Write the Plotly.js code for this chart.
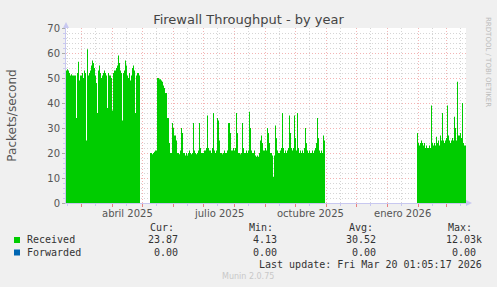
<!DOCTYPE html>
<html>
<head>
<meta charset="utf-8">
<script src="https://cdn.plot.ly/plotly-3.0.1.min.js"></script>
<style>
  html, body { margin: 0; padding: 0; background: #F0F0F0; }
  #chart { width: 497px; height: 287px; }
</style>
</head>
<body>
<div id="chart"></div>
<script>
// ---- data (daily values, packets/second) ----
const seg1Start = '2025-02-13 01:05';
const seg1Values = [53,53.5,53,52,51,51.5,51,51,51,51,34,52,56.5,49,51,51,52,50,53,52,
  25,61.5,51,52,53,55,57,56,54,51,48,36,53,55,52,50,51,52,53,52,
  51,38,52,51,51,50,37,52,53,53,54,55,59,56,53,52,33,52,53,57,
  55,51,50,52,49,51,54,55,53,36,51,52,52,51,52];

const seg2Start = '2025-05-08 01:05';
const seg2Values = [20,20,19.5,20,20.5,21,21,50,50,49.5,49.5,49,48.5,47,46,44,44,34,34,24,
  20,20,32,30,27,27,25,20,20,19.5,21,30,28,20,20,19,20,19,20,21,
  20,19.5,20,32,21,20,19.5,20,21,32,22,20,20,20,21,21,22,35,22,21,
  21,20,22,36,21,20,21,34,33,25,20,20,19.5,20,21,20,20,21,32,32,
  28,21,21,22,21,22,36,28,20,20,19.5,20,32,22,20,20,21,20,21,36.5,
  30,21,20,20,21,19,18.5,19,18.5,20,25,27,24,21,21,22,21,30,28,24,
  20,20,19,10.5,19,31,26,21,20,20,21,22,36,22,20,21,20,21,22,35,
  28,22,21,22,35,26,21,36,22,20,21,20,21,20,22,30,24,21,20,21,
  20,20,21,20,21,22,24,34,26,21,20,21,20,27,25,25];

const seg3Start = '2026-01-30 01:05';
const seg3Values = [28,24,23,24,25,24,23,24,22,23,22,22,23,22,39,24,23,24,23,26.5,
  24,25,23,27,25,36,25,24,25,26,39,27,25,24,25,26,25,34.5,30,25,
  48.5,27,27,28,26,40,24,23,23,24];

const seriesName = 'Received';
const xRange = ['2025-02-13 01:05', '2026-03-20 01:05'];
const monthTicks = ['2025-03-01','2025-04-01','2025-05-01','2025-06-01','2025-07-01','2025-08-01',
  '2025-09-01','2025-10-01','2025-11-01','2025-12-01','2026-01-01','2026-02-01','2026-03-01'];
const midMonthTicks = ['2025-02-15','2025-03-15','2025-04-15','2025-05-15','2025-06-15','2025-07-15',
  '2025-08-15','2025-09-15','2025-10-15','2025-11-15','2025-12-15','2026-01-15','2026-02-15','2026-03-15'];
const labelDates = ['2025-04-16','2025-07-16','2025-10-16','2026-01-16'];
const labelTexts = ['abril 2025','julio 2025','octubre 2025','enero 2026'];

const legendHeaders = ['Cur:','Min:','Avg:','Max:'];
const receivedStats = ['23.87','4.13','30.52','12.03k'];
const forwardedStats = ['0.00','0.00','0.00','0.00'];
const lastUpdate = 'Last update: Fri Mar 20 01:05:17 2026';

// ---- helpers ----
const DAY = 86400000;
function parseD(s){ const [d,t]=s.split(' '); const [Y,M,D]=d.split('-').map(Number); const [h,m]=(t||'0:0').split(':').map(Number); return Date.UTC(Y,M-1,D,h,m); }
function fmt(ms){ return new Date(ms).toISOString().replace('T',' ').slice(0,16); }
function dailyX(start, values){ const s=parseD(start); return values.map((_,i)=>fmt(s+i*DAY)); }

// layout geometry (pixels)
const W=497, H=287, L=66, R=466, T=28, B=203;
const px = p => (p-L)/(R-L);
const py = p => (B-p)/(B-T);

const green = '#00CC00', blue = '#0066B3';
const axisCol = '#C8C8F0';
const mgrid = 'rgba(235,130,130,0.6)';
const grid = 'rgba(185,185,185,0.6)';

const traces = [[seg1Start,seg1Values],[seg2Start,seg2Values],[seg3Start,seg3Values]].map(([s,v])=>({
  type:'scatter', mode:'lines', name: seriesName,
  x: dailyX(s,v), y: v,
  line:{shape:'hv', width:0, color:green},
  fill:'tozeroy', fillcolor:green,
  showlegend:false, hoverinfo:'skip'
}));

const mono = 'DejaVu Sans Mono, monospace';
const sans = 'DejaVu Sans, sans-serif';
const txt = '#333333';

const annotations = [];
labelDates.forEach((d,i)=>annotations.push({
  x:d, xref:'x', y:py(213), yref:'paper', text:labelTexts[i], showarrow:false,
  xanchor:'center', yanchor:'middle', font:{family:sans, size:10, color:'#555'}
}));
const headerX = [149,248,348,447];
legendHeaders.forEach((h,i)=>annotations.push({
  x:px(headerX[i]), xref:'paper', y:py(227), yref:'paper', text:h, showarrow:false,
  xanchor:'left', yanchor:'middle', borderpad:0, font:{family:mono, size:10, color:txt}
}));
annotations.push({x:px(26), xref:'paper', y:py(239.5), yref:'paper', text:'Received', showarrow:false,
  xanchor:'left', yanchor:'middle', borderpad:0, font:{family:mono, size:10, color:txt}});
annotations.push({x:px(26), xref:'paper', y:py(252), yref:'paper', text:'Forwarded', showarrow:false,
  xanchor:'left', yanchor:'middle', borderpad:0, font:{family:mono, size:10, color:txt}});
const recRight = [179,278,377,483];
const fwdRight = [179,278,377,477];
receivedStats.forEach((v,i)=>annotations.push({x:px(recRight[i]), xref:'paper', y:py(239.5), yref:'paper',
  text:v, showarrow:false, xanchor:'right', yanchor:'middle', borderpad:0, font:{family:mono, size:10, color:txt}}));
forwardedStats.forEach((v,i)=>annotations.push({x:px(fwdRight[i]), xref:'paper', y:py(252), yref:'paper',
  text:v, showarrow:false, xanchor:'right', yanchor:'middle', borderpad:0, font:{family:mono, size:10, color:txt}}));
annotations.push({x:px(483), xref:'paper', y:py(264), yref:'paper', text:lastUpdate, showarrow:false,
  xanchor:'right', yanchor:'middle', borderpad:0, font:{family:mono, size:10, color:txt}});
annotations.push({x:px(248), xref:'paper', y:py(276.5), yref:'paper', text:'Munin 2.0.75', showarrow:false,
  xanchor:'center', yanchor:'middle', borderpad:0, font:{family:sans, size:8, color:'#C8C8C8'}});
annotations.push({x:px(488), xref:'paper', y:py(62), yref:'paper', text:'RRDTOOL / TOBI OETIKER', showarrow:false,
  textangle:90, xanchor:'center', yanchor:'middle', borderpad:0, font:{family:sans, size:7, color:'#BBBBBB'}});

const shapes = [
  {type:'rect', xref:'paper', yref:'paper', x0:px(14), x1:px(20), y0:py(243), y1:py(237), fillcolor:green, line:{width:0}},
  {type:'rect', xref:'paper', yref:'paper', x0:px(14), x1:px(20), y0:py(255.5), y1:py(249.5), fillcolor:blue, line:{width:0}},
  // axis arrows
  {type:'path', xref:'paper', yref:'paper', path:`M ${px(63)} ${py(28)} L ${px(69)} ${py(28)} L ${px(66)} ${py(22)} Z`, fillcolor:axisCol, line:{width:0}},
  {type:'path', xref:'paper', yref:'paper', path:`M ${px(466)} ${py(200)} L ${px(466)} ${py(206)} L ${px(472)} ${py(203)} Z`, fillcolor:axisCol, line:{width:0}}
];

const layout = {
  width:W, height:H,
  paper_bgcolor:'#F0F0F0', plot_bgcolor:'#FFFFFF',
  margin:{l:L, r:W-R, t:T, b:H-B, pad:0},
  title:{text:'Firewall Throughput - by year', font:{family:sans, size:13, color:'#444'},
    xref:'container', x:0.5, xanchor:'center', yref:'container', y:1-19/H, yanchor:'middle'},
  xaxis:{type:'date', range:xRange, fixedrange:true,
    tickmode:'array', tickvals:monthTicks, ticktext:monthTicks.map(()=>''),
    ticks:'outside', ticklen:3, tickcolor:'#E88080', tickwidth:1,
    showgrid:true, gridcolor:mgrid, griddash:'1px,2px', gridwidth:1,
    showline:true, linecolor:axisCol, linewidth:1, zeroline:false,
    minor:{tickmode:'array', tickvals:midMonthTicks, ticks:'outside', ticklen:2, tickcolor:axisCol,
      showgrid:true, gridcolor:grid, griddash:'1px,2px', gridwidth:1}
  },
  yaxis:{range:[0,70], fixedrange:true, tickmode:'linear', tick0:0, dtick:10,
    ticks:'outside', ticklen:3, tickcolor:'#AAAAAA',
    tickfont:{family:sans, size:10, color:'#555'},
    showgrid:true, gridcolor:mgrid, griddash:'1px,2px', gridwidth:1,
    showline:true, linecolor:axisCol, linewidth:1, zeroline:false,
    minor:{tickmode:'linear', dtick:2, ticks:'outside', ticklen:2, tickcolor:axisCol,
      showgrid:true, gridcolor:grid, griddash:'1px,2px', gridwidth:1},
    title:{text:'Packets/second', font:{family:sans, size:12, color:'#555'}, standoff:28}
  },
  annotations, shapes, showlegend:false
};

Plotly.newPlot('chart', traces, layout, {staticPlot:true, displayModeBar:false});
</script>
</body>
</html>
